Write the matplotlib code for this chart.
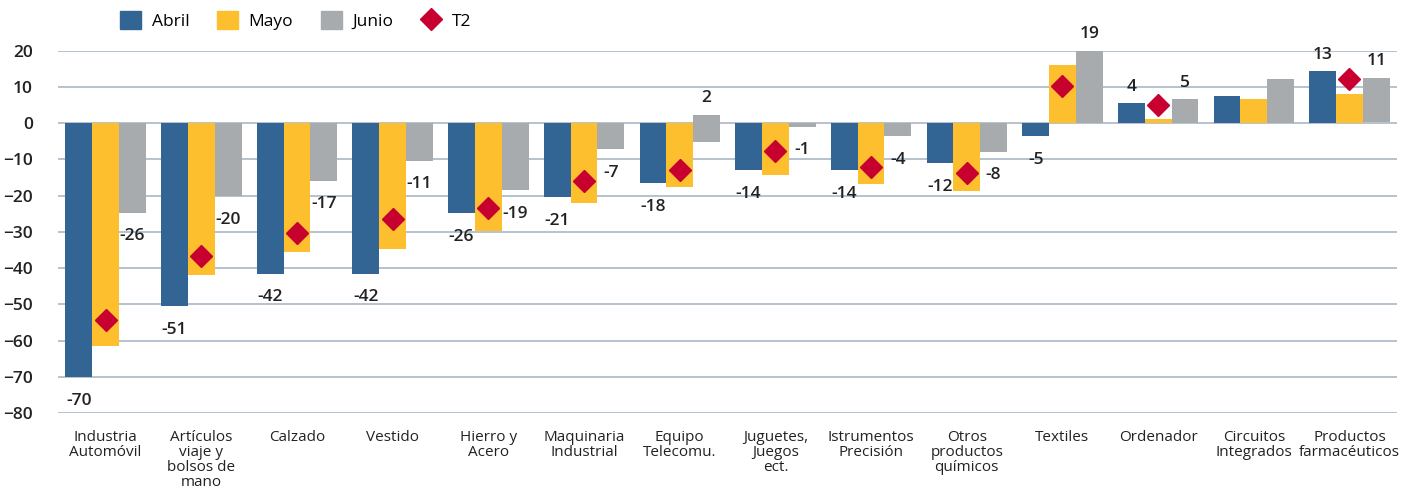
import numpy as np
import matplotlib.pyplot as plt
from matplotlib.lines import Line2D
from matplotlib.patches import Patch

categorias = ['Industria\nAutomóvil', 'Artículos\nviaje y\nbolsos de\nmano', 'Calzado', 'Vestido',
              'Hierro y\nAcero', 'Maquinaria\nIndustrial', 'Equipo\nTelecomu.', 'Juguetes,\nJuegos\nect.',
              'Istrumentos\nPrecisión', 'Otros\nproductos\nquímicos', 'Textiles', 'Ordenador',
              'Circuitos\nIntegrados', 'Productos\nfarmacéuticos']

abril = [-70, -50.5, -41.5, -41.5, -24.8, -20.4, -16.5, -13, -13, -11, -3.6, 5.5, 7.4, 14.3]
mayo = [-61.5, -41.8, -35.5, -34.8, -29.8, -22, -17.6, -14.4, -16.8, -18.6, 16.2, 1.1, 6.6, 8]
junio = [-24.7, -20.2, -15.8, -10.3, -18.4, -7.1, 2.3, -0.9, -3.6, -7.8, 20, 6.6, 12.1, 12.5]
junio_base = [0, 0, 0, 0, 0, 0, -5.3, 0, 0, 0, 0, 0, 0, 0.4]
t2 = [-54.4, -36.5, -30.2, -26.4, -23.4, -16, -12.9, -7.6, -12.2, -13.6, 10.4, 4.9, np.nan, 12.1]

abril_txt = ['-70', '-51', '-42', '-42', '-26', '-21', '-18', '-14', '-14', '-12', '-5', '4', '', '13']
junio_txt = ['-26', '-20', '-17', '-11', '-19', '-7', '2', '-1', '-4', '-8', '19', '5', '', '11']

c_abril = '#336594'
c_mayo = '#FDBF2D'
c_junio = '#A7ABAE'
c_t2 = '#C8002F'
c_text = '#222222'

plt.rcParams['font.family'] = ['Open Sans', 'DejaVu Sans']

fig = plt.figure(figsize=(14.1, 4.93), dpi=100)
ax = fig.add_axes([0.041, 0.162, 0.95, 0.735])

x = np.arange(len(categorias))
w = 0.28

ax.bar(x - w, abril, w, color=c_abril, zorder=2)
ax.bar(x, mayo, w, color=c_mayo, zorder=2)
jb = np.array(junio_base)
ax.bar(x + w, np.array(junio) - jb, w, bottom=jb, color=c_junio, zorder=2)
ax.plot(x, t2, linestyle='none', marker='D', markersize=11, color=c_t2, zorder=3)

# etiquetas de datos
for i in range(len(x)):
    for xi, v, txt in [(x[i] - w, abril[i], abril_txt[i]), (x[i] + w, junio[i], junio_txt[i])]:
        if not txt:
            continue
        off = 12 if v > 0 else -17
        ax.annotate(txt, (xi, v), xytext=(0, off), textcoords='offset points',
                    ha='center', va='center', fontsize=12.5, color=c_text, fontweight='semibold')

ax.set_ylim(-80, 20)
ax.set_xlim(-0.5, len(categorias) - 0.5)
ax.set_yticks(np.arange(-80, 21, 10))
ax.yaxis.grid(True, color='#A9B8C6', linewidth=1.2, zorder=0)
ax.set_axisbelow(True)
for s in ax.spines.values():
    s.set_visible(False)
ax.tick_params(axis='both', length=0, colors=c_text)
ax.tick_params(axis='y', pad=18, labelsize=12.5)
for lab in ax.get_yticklabels():
    lab.set_fontweight('semibold')
ax.set_xticks(x)
ax.set_xticklabels(categorias, fontsize=11, linespacing=1.0, fontweight='medium')
ax.tick_params(axis='x', pad=12)

handles = [Patch(color=c_abril), Patch(color=c_mayo), Patch(color=c_junio),
           Line2D([], [], linestyle='none', marker='D', markersize=11, color=c_t2)]
fig.legend(handles, ['Abril', 'Mayo', 'Junio', 'T2'], loc='center', bbox_to_anchor=(0.21, 0.958),
           ncol=4, frameon=False, prop={'size': 12.5, 'weight': 'medium'}, handlelength=1.2,
           handleheight=1.2, columnspacing=1.6, handletextpad=0.6)

fig.savefig('out.png', dpi=100)
